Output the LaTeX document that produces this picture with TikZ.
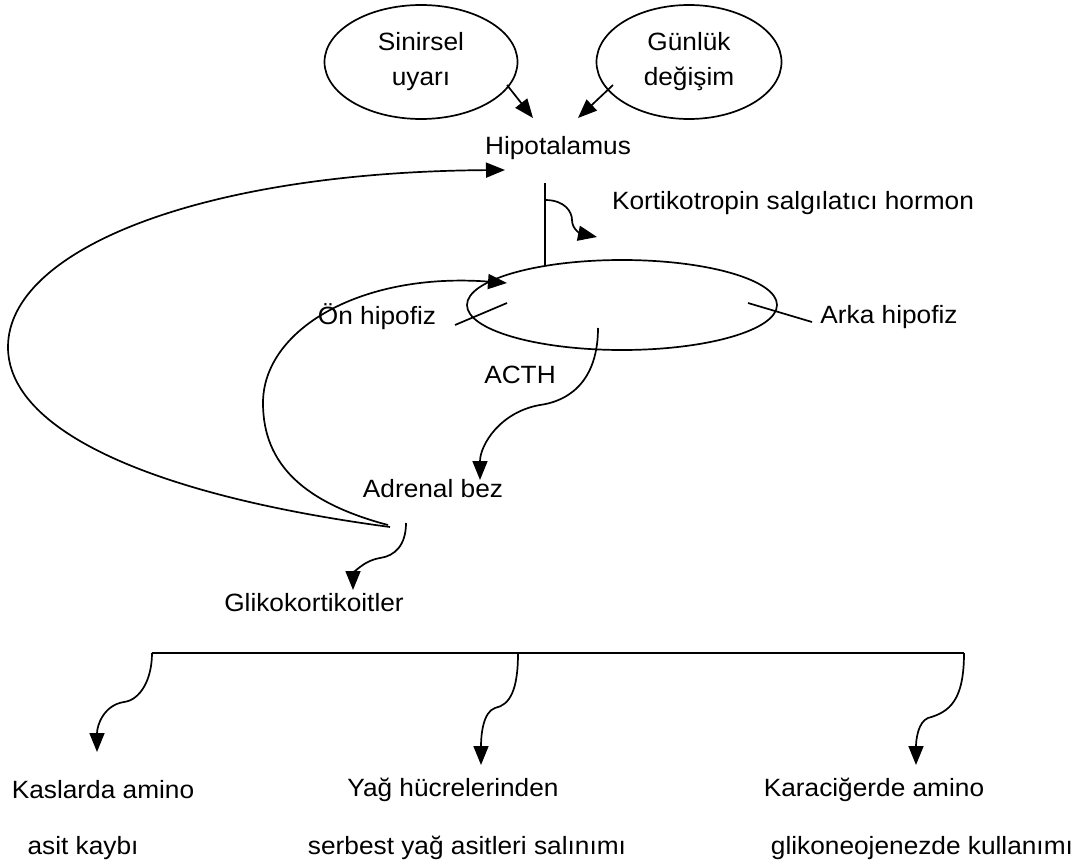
\documentclass[tikz,border=0pt]{standalone}
\usepackage{fontspec}
\setmainfont{Liberation Sans}[FakeStretch=1.05]
\usetikzlibrary{arrows.meta,shapes.geometric}

\begin{document}
\begin{tikzpicture}[x=0.5pt, y=-0.5pt, >={Triangle[length=9.5pt,width=7.5pt]}, line width=0.85pt, every node/.style={font=\fontsize{12.5}{17.5}\selectfont, inner sep=0pt}, ov/.style={ellipse,draw,align=center,minimum height=57pt}]
\useasboundingbox (0,0) rectangle (1081,866);
% top
\node[ov, minimum width=96.5pt] (sin) at (421,62) {Sinirsel\\uyarı};
\node[ov, minimum width=92.5pt] (gun) at (689,62) {Günlük\\değişim};
\node (hyp) at (558,148) {Hipotalamus};
\node (crh) at (793,203) {Kortikotropin salgılatıcı hormon};
\node[ellipse,draw,minimum width=155pt,minimum height=45pt] (hip) at (622,305) {};
\node (on) at (377,317) {Ön hipofiz};
\node (arka) at (889,317) {Arka hipofiz};
\node (acth) at (520,375) {ACTH};
\node (adr) at (433,489) {Adrenal bez};
\node (gli) at (314,603) {Glikokortikoitler};
% bottom
\node (k1) at (103,790) {Kaslarda amino};
\node (k2) at (83,848) {asit kaybı};
\node (y1) at (453,790) {Yağ hücrelerinden};
\node (y2) at (467,848) {serbest yağ asitleri salınımı};
\node (c1) at (874,790) {Karaciğerde amino};
\node (c2) at (922,848) {glikoneojenezde kullanımı};

\coordinate (s1) at (507,85);   \coordinate (s2) at (533,118);
\coordinate (g1) at (613,85);   \coordinate (g2) at (578,118);
\coordinate (v1) at (545,183);  \coordinate (v2) at (545,266);
\coordinate (w1) at (545,200);  \coordinate (w2) at (597,237);
\coordinate (o1) at (455,325);  \coordinate (o2) at (507,303);
\coordinate (r1) at (748,303);  \coordinate (r2) at (812,322);
\coordinate (a1) at (598,328);  \coordinate (a2) at (480,480);
\coordinate (f1) at (390,527);  \coordinate (f2) at (505,170);
\coordinate (i1) at (388,525);  \coordinate (i2) at (507,283);
\coordinate (l1) at (406,523);  \coordinate (l2) at (353,590);
\coordinate (b1) at (152,653);  \coordinate (b2) at (518,653);  \coordinate (b3) at (964,653);
\coordinate (t1) at (97,752);   \coordinate (t2) at (481,765);  \coordinate (t3) at (916,765);

\draw[->] (s1) -- (s2);
\draw[->] (g1) -- (g2);
\draw (v1) -- (v2);
\draw[->] (w1) .. controls (565,200) and (572,212) .. (572,220) .. controls (572,230) and (582,234) .. (w2);
\draw (o1) -- (o2);
\draw (r1) -- (r2);
\draw[->] (a1) .. controls (598,375) and (575,400) .. (540,405) .. controls (500,412) and (480,445) .. (a2);
% feedback loops
\draw[->] (f1) .. controls (150,495) and (8,430) .. (8,347) .. controls (8,250) and (200,172) .. (f2);
\draw[->] (i1) .. controls (305,503) and (263,465) .. (263,403) .. controls (263,330) and (360,272) .. (i2);
\draw[->] (l1) .. controls (406,545) and (395,556) .. (380,558) .. controls (362,561) and (353,575) .. (l2);
% effects
\draw (b1) -- (b2) -- (b3);
\draw[->] (b1) .. controls (152,680) and (140,700) .. (124,702) .. controls (104,705) and (97,725) .. (t1);
\draw[->] (b2) .. controls (518,690) and (510,705) .. (495,708) .. controls (483,712) and (481,735) .. (t2);
\draw[->] (b3) .. controls (964,700) and (950,712) .. (928,718) .. controls (918,722) and (916,740) .. (t3);
\end{tikzpicture}
\end{document}
